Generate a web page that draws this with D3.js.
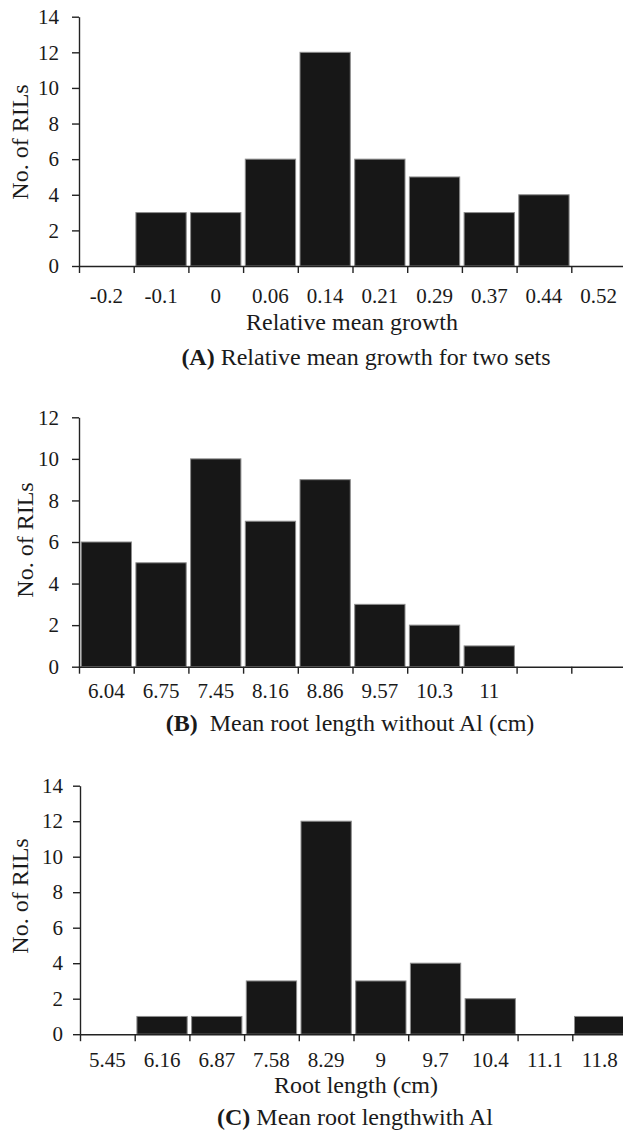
<!DOCTYPE html>
<html>
<head>
<meta charset="utf-8">
<script src="https://cdn.jsdelivr.net/npm/d3@7/dist/d3.min.js"></script>
<style>
  body { margin: 0; background: #fff; }
  svg text { font-family: "Liberation Serif", "DejaVu Serif", serif; fill: #1a1a1a; }
  .axis path, .axis line { stroke: #222; stroke-width: 1.4px; }
</style>
</head>
<body>
<div id="chart"></div>
<script>
// histogram data for the three panels
var aLabels = ["-0.2", "-0.1", "0", "0.06", "0.14", "0.21", "0.29", "0.37", "0.44", "0.52"];
var aCounts = [0, 3, 3, 6, 12, 6, 5, 3, 4, 0];

var bLabels = ["6.04", "6.75", "7.45", "8.16", "8.86", "9.57", "10.3", "11", "", ""];
var bCounts = [6, 5, 10, 7, 9, 3, 2, 1, 0, 0];

var cLabels = ["5.45", "6.16", "6.87", "7.58", "8.29", "9", "9.7", "10.4", "11.1", "11.8"];
var cCounts = [0, 1, 1, 3, 12, 3, 4, 2, 0, 1];

var aTicks = [0, 2, 4, 6, 8, 10, 12, 14];
var bTicks = [0, 2, 4, 6, 8, 10, 12];
var cTicks = [0, 2, 4, 6, 8, 10, 12, 14];

var svg = d3.select("#chart").append("svg")
    .attr("width", 623)
    .attr("height", 1133);

var bandW = 54.7;

// draw one panel
function panel(opt) {
    var n = opt.labels.length;
    var x = d3.scaleBand()
        .domain(d3.range(n))
        .range([opt.left, opt.left + n * bandW])
        .paddingInner(0).paddingOuter(0);
    var xb = d3.scaleLinear().domain([0, n]).range([opt.left, opt.left + n * bandW]);
    var y = d3.scaleLinear().domain([0, opt.yMax]).range([opt.zero, opt.top]);

    var g = svg.append("g");

    // bars
    g.selectAll("rect")
        .data(opt.counts.map(function (d, i) { return { i: i, v: d }; }).filter(function (d) { return d.v > 0; }))
        .enter()
        .append("rect")
        .attr("x", function (d) { return x(d.i) + 2.2; })
        .attr("y", function (d) { return y(d.v); })
        .attr("width", x.bandwidth() - 4.4)
        .attr("height", function (d) { return y(0) - y(d.v); })
        .attr("fill", "#171717")
        .attr("stroke", "#8c8c8c")
        .attr("stroke-width", 1);

    // x axis: boundary ticks
    g.append("g")
        .attr("class", "axis")
        .attr("transform", "translate(0," + opt.zero + ")")
        .call(d3.axisBottom(xb).tickValues(d3.range(n)).tickFormat("").tickSize(7).tickSizeOuter(0));

    // x axis: labels centred in bands
    var lab = g.append("g")
        .attr("transform", "translate(0," + opt.zero + ")")
        .call(d3.axisBottom(x).tickSize(0).tickPadding(opt.labPad).tickFormat(function (i) { return opt.labels[i]; }));
    lab.select(".domain").remove();
    lab.selectAll("text").style("font-size", "21px");

    // y axis
    var ya = g.append("g")
        .attr("class", "axis")
        .attr("transform", "translate(" + opt.left + ",0)")
        .call(d3.axisLeft(y).tickValues(opt.ticks).tickSize(7).tickSizeOuter(0).tickPadding(opt.yPad));
    ya.selectAll("text").style("font-size", "21px");

    // y title
    svg.append("text")
        .attr("transform", "translate(" + opt.yTitleX + "," + opt.yTitleY + ") rotate(-90)")
        .attr("text-anchor", "middle")
        .style("font-size", "24px")
        .text("No. of RILs");
}

panel({ labels: aLabels, counts: aCounts, ticks: aTicks, yMax: 14,
        left: 79, zero: 266, top: 16.7, labPad: 22, yPad: 13, yTitleX: 28, yTitleY: 142 });
panel({ labels: bLabels, counts: bCounts, ticks: bTicks, yMax: 12,
        left: 79, zero: 666.7, top: 417.3, labPad: 16.5, yPad: 13, yTitleX: 33, yTitleY: 540 });
panel({ labels: cLabels, counts: cCounts, ticks: cTicks, yMax: 14,
        left: 80, zero: 1034.2, top: 785.7, labPad: 17.5, yPad: 10, yTitleX: 28, yTitleY: 896 });

// x titles and captions
svg.append("text").attr("x", 352).attr("y", 330).attr("text-anchor", "middle")
    .style("font-size", "24px").text("Relative mean growth");

var capA = svg.append("text").attr("x", 366).attr("y", 365).attr("text-anchor", "middle")
    .style("font-size", "24px");
capA.append("tspan").style("font-weight", "bold").text("(A)");
capA.append("tspan").text(" Relative mean growth for two sets");

var capB = svg.append("text").attr("x", 350).attr("y", 731).attr("text-anchor", "middle")
    .style("font-size", "24px").style("white-space", "pre");
capB.append("tspan").style("font-weight", "bold").text("(B)");
capB.append("tspan").text("  Mean root length without Al (cm)");

svg.append("text").attr("x", 356).attr("y", 1093).attr("text-anchor", "middle")
    .style("font-size", "24px").text("Root length (cm)");

var capC = svg.append("text").attr("x", 355).attr("y", 1125).attr("text-anchor", "middle")
    .style("font-size", "24px");
capC.append("tspan").style("font-weight", "bold").text("(C)");
capC.append("tspan").text(" Mean root lengthwith Al");
</script>
</body>
</html>
